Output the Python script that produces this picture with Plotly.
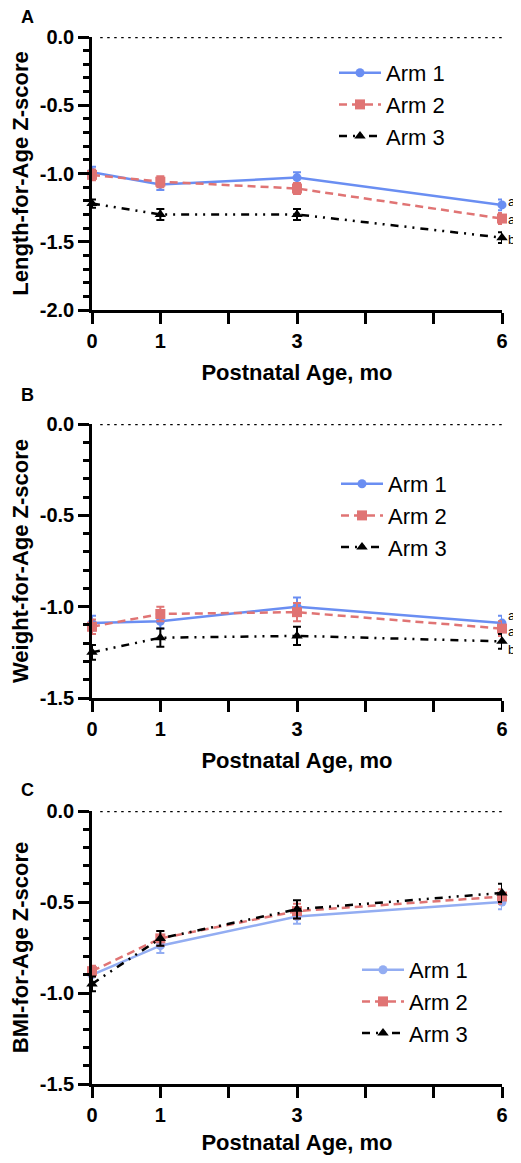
import plotly.graph_objects as go

# ---- data ----
months = [0, 1, 3, 6]
arm_names = ['Arm 1', 'Arm 2', 'Arm 3']

# Panel A: length-for-age z-score
laz_arm1 = [-0.99, -1.08, -1.03, -1.23]
laz_arm2 = [-1.01, -1.06, -1.11, -1.33]
laz_arm3 = [-1.22, -1.30, -1.30, -1.47]
laz_err1 = [0.04, 0.04, 0.04, 0.04]
laz_err2 = [0.04, 0.04, 0.04, 0.04]
laz_err3 = [0.03, 0.04, 0.04, 0.04]
laz_letters = ['a', 'a', 'b']

# Panel B: weight-for-age z-score
waz_arm1 = [-1.09, -1.08, -1.00, -1.09]
waz_arm2 = [-1.11, -1.04, -1.03, -1.12]
waz_arm3 = [-1.25, -1.17, -1.16, -1.19]
waz_err1 = [0.04, 0.04, 0.05, 0.04]
waz_err2 = [0.04, 0.04, 0.05, 0.04]
waz_err3 = [0.04, 0.05, 0.05, 0.04]
waz_letters = ['a', 'a', 'b']

# Panel C: BMI-for-age z-score
baz_arm1 = [-0.90, -0.74, -0.58, -0.50]
baz_arm2 = [-0.88, -0.70, -0.55, -0.47]
baz_arm3 = [-0.95, -0.70, -0.54, -0.45]
baz_err1 = [0.04, 0.04, 0.04, 0.04]
baz_err2 = [0.03, 0.04, 0.04, 0.04]
baz_err3 = [0.04, 0.04, 0.05, 0.05]

x_tick_vals = [0, 1, 2, 3, 4, 5, 6]
x_tick_text = ['0', '1', '', '3', '', '', '6']
y_ticks_a = [0.0, -0.5, -1.0, -1.5, -2.0]
y_ticks_bc = [0.0, -0.5, -1.0, -1.5]
panel_titles = ['Length-for-Age Z-score', 'Weight-for-Age Z-score', 'BMI-for-Age Z-score']

FONT = 'Liberation Sans, Arial, Helvetica, sans-serif'
BLUE = '#6a8ef2'
BLUE_LIGHT = '#93adf2'
RED = '#e07474'
BLACK = '#000000'

# the page body has an 8px margin, so everything is laid out 8px up/left
# and the figure is kept small enough not to overflow the window
OFF = 8
W, H = 521 - OFF, 1163 - 2 * OFF
# outer plot region in screen pixels (all three panels share it)
L, R, T, B = 92, 502, 37, 1084


def fx(p):
    # screen pixel x -> paper fraction of the plot region
    return (p - L) / (R - L)


def fy(p):
    # screen pixel y -> paper fraction of the plot region
    return (B - p) / (B - T)


panels = [
    dict(top=37, bottom=310, ymin=-2.0, ticks=y_ticks_a,
         arms=[laz_arm1, laz_arm2, laz_arm3], errs=[laz_err1, laz_err2, laz_err3],
         letters=laz_letters, shifts=[3, -1, -2], legend_top=52, legend_left=334,
         colors=[BLUE, RED, BLACK]),
    dict(top=424, bottom=698, ymin=-1.5, ticks=y_ticks_bc,
         arms=[waz_arm1, waz_arm2, waz_arm3], errs=[waz_err1, waz_err2, waz_err3],
         letters=waz_letters, shifts=[8, -3, -8], legend_top=463, legend_left=336,
         colors=[BLUE, RED, BLACK]),
    dict(top=811, bottom=1084, ymin=-1.5, ticks=y_ticks_bc,
         arms=[baz_arm1, baz_arm2, baz_arm3], errs=[baz_err1, baz_err2, baz_err3],
         letters=None, shifts=None, legend_top=949, legend_left=357,
         colors=[BLUE_LIGHT, RED, BLACK]),
]

styles = [
    dict(symbol='circle', size=9, dash='solid', width=2.5),
    dict(symbol='square', size=10, dash='8px,5px', width=2.5),
    dict(symbol='triangle-up', size=10, dash='8px,6px,2px,6px,2px,6px', width=2.5),
]

fig = go.Figure()
layout = {}

for i, p in enumerate(panels):
    n = '' if i == 0 else str(i + 1)
    xa, ya = 'x' + n, 'y' + n
    leg = 'legend' + n

    for k in range(3):
        st = styles[k]
        col = p['colors'][k]
        fig.add_trace(go.Scatter(
            x=months, y=p['arms'][k], name=arm_names[k],
            xaxis=xa, yaxis=ya, legend=leg,
            mode='lines+markers', cliponaxis=False,
            line=dict(color=col, width=st['width'], dash=st['dash']),
            marker=dict(color=col, symbol=st['symbol'], size=st['size']),
            error_y=dict(type='data', array=p['errs'][k], color=col,
                         thickness=2, width=4),
        ))

    # dotted reference line at zero
    fig.add_shape(type='line', xref=xa, yref=ya, x0=0.12, x1=6, y0=0, y1=0,
                  line=dict(color=BLACK, width=2.5, dash='2.5px,4.5px'))

    layout['xaxis' + n] = dict(
        domain=[0, 1], anchor=ya, range=[0, 6], automargin=False,
        showline=True, linecolor=BLACK, linewidth=2.5, showgrid=False, zeroline=False,
        tickmode='array', tickvals=x_tick_vals, ticktext=x_tick_text,
        ticks='outside', ticklen=11, tickwidth=2.5, tickcolor=BLACK,
        tickfont=dict(family=FONT, size=20, color=BLACK, weight='bold'),
        title=dict(text='Postnatal Age, mo', standoff=14,
                   font=dict(family=FONT, size=22, color=BLACK, weight='bold')),
    )
    layout['yaxis' + n] = dict(
        domain=[fy(p['bottom']), fy(p['top'])], anchor=xa, range=[p['ymin'], 0],
        automargin=False,
        showline=True, linecolor=BLACK, linewidth=2.5, showgrid=False, zeroline=False,
        tickmode='array', tickvals=p['ticks'], ticktext=['%.1f' % v for v in p['ticks']],
        ticks='outside', ticklen=11, tickwidth=2.5, tickcolor=BLACK,
        minor=dict(tickmode='linear', tick0=0, dtick=0.1, ticks='outside',
                   ticklen=6, tickwidth=2.5, tickcolor=BLACK, showgrid=False),
        tickfont=dict(family=FONT, size=20, color=BLACK, weight='bold'),
        title=dict(text=panel_titles[i], standoff=11,
                   font=dict(family=FONT, size=22, color=BLACK, weight='bold')),
    )
    layout[leg] = dict(
        x=fx(p['legend_left']), y=fy(p['legend_top']),
        xanchor='left', yanchor='top', bgcolor='rgba(0,0,0,0)', itemwidth=42,
        font=dict(family=FONT, size=22, color=BLACK), tracegroupgap=0,
    )

    # significance letters next to 6-month points
    if p['letters']:
        for k, letter in enumerate(p['letters']):
            fig.add_annotation(
                x=1, y=p['arms'][k][-1], xref='paper', yref=ya, text=letter,
                showarrow=False, xanchor='left', xshift=4, yshift=p['shifts'][k],
                font=dict(family=FONT, size=13, color=BLACK),
            )

# panel letters
for letter, ypos in zip(['A', 'B', 'C'], [17, 395, 790]):
    fig.add_annotation(x=fx(27), y=fy(ypos), xref='paper', yref='paper',
                       xanchor='center', yanchor='middle',
                       text=letter, showarrow=False,
                       font=dict(family=FONT, size=18, color=BLACK, weight='bold'))

fig.update_layout(
    width=W, height=H,
    margin=dict(l=L - OFF, r=W - (R - OFF), t=T - OFF, b=H - (B - OFF)),
    paper_bgcolor='white', plot_bgcolor='white',
    showlegend=True,
    **layout,
)

fig.write_html("out.html")
